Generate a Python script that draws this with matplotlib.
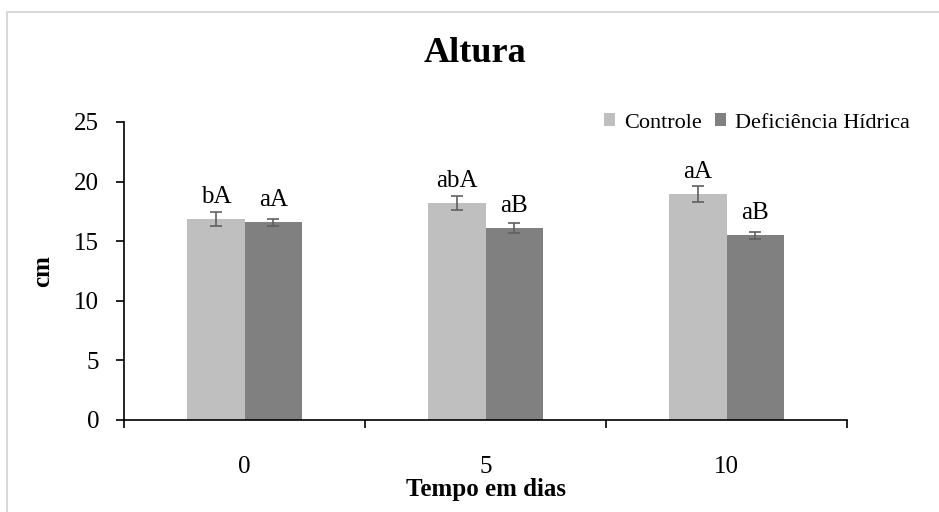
import matplotlib.pyplot as plt
import numpy as np
from matplotlib.patches import Patch
from matplotlib.lines import Line2D

plt.rcParams['font.family'] = ['Liberation Serif', 'DejaVu Serif']

# data
dias = ['0', '5', '10']
controle = [16.85, 18.2, 18.95]
controle_err = [0.6, 0.6, 0.7]
deficiencia = [16.6, 16.1, 15.5]
deficiencia_err = [0.3, 0.4, 0.3]
letras_controle = ['bA', 'abA', 'aA']
letras_deficiencia = ['aA', 'aB', 'aB']

cor_c = '#BFBFBF'
cor_d = '#808080'
largura = 0.238

fig = plt.figure(figsize=(9.39, 5.12), dpi=100)
ax = fig.add_axes([124 / 939, 1 - 420 / 512, (847 - 124) / 939, (420 - 122) / 512])

x = np.arange(len(dias))
err_kw = dict(ecolor='#606060', elinewidth=1.2, capsize=4, capthick=1.2)
b1 = ax.bar(x - largura / 2, controle, largura, color=cor_c, yerr=controle_err,
            error_kw=err_kw, label='Controle', zorder=2)
b2 = ax.bar(x + largura / 2, deficiencia, largura, color=cor_d, yerr=deficiencia_err,
            error_kw=err_kw, label='Deficiência Hídrica', zorder=2)

for xi, v, t in zip(x - largura / 2, controle, letras_controle):
    ax.annotate(t, (xi, v), xytext=(0, 11.5), textcoords='offset points',
                ha='center', va='baseline', fontsize=18)
for xi, v, t in zip(x + largura / 2, deficiencia, letras_deficiencia):
    ax.annotate(t, (xi, v), xytext=(0, 11.5), textcoords='offset points',
                ha='center', va='baseline', fontsize=18)

ax.set_xlim(-0.5, 2.5)
ax.set_ylim(0, 25)
ax.set_yticks(np.arange(0, 26, 5))
ax.set_xticks(x)
ax.set_xticklabels(dias)
ax.set_xticks([-0.5, 0.5, 1.5, 2.5], minor=True)
ax.tick_params(axis='x', which='major', length=0, pad=26, labelsize=18)
ax.tick_params(axis='x', which='minor', direction='out', length=6, width=1.2)
ax.tick_params(axis='y', direction='out', length=6, width=1.2, pad=12, labelsize=18)

for s in ['top', 'right']:
    ax.spines[s].set_visible(False)
for s in ['left', 'bottom']:
    ax.spines[s].set_linewidth(1.2)

ax.set_xlabel('Tempo em dias', fontsize=18, fontweight='bold', labelpad=0)
ax.set_ylabel('cm', fontsize=18, fontweight='bold', labelpad=14)
fig.text(475 / 939, 1 - 53 / 512, 'Altura', ha='center', va='center',
         fontsize=26, fontweight='bold')

handles = [Patch(facecolor=cor_c), Patch(facecolor=cor_d)]
fig.legend(handles, ['Controle', 'Deficiência Hídrica'], loc='center right',
           bbox_to_anchor=(910 / 939, 1 - 123 / 512), ncol=2, frameon=False,
           fontsize=16, handlelength=0.5, handleheight=0.5, handletextpad=0.4,
           columnspacing=0.6, borderaxespad=0, borderpad=0)

# light chart-area border (left and top visible)
fig.add_artist(Line2D([7 / 939, 7 / 939], [0, 1 - 12 / 512], color='#D9D9D9', lw=1.5))
fig.add_artist(Line2D([7 / 939, 1], [1 - 12 / 512, 1 - 12 / 512], color='#D9D9D9', lw=1.5))

fig.savefig('out.png', dpi=100)
